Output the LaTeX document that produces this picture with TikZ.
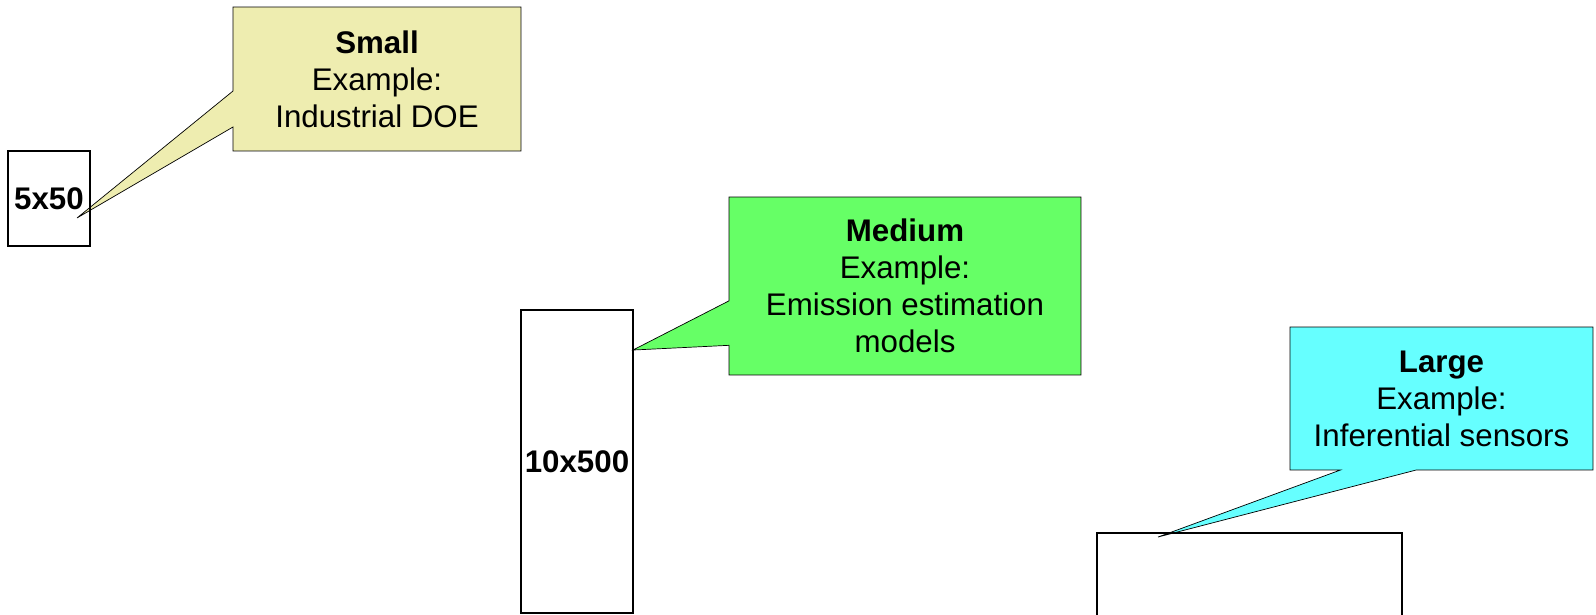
\documentclass[tikz,border=0pt]{standalone}
\usepackage{fontspec}
\setmainfont{Liberation Sans}
\usetikzlibrary{calc,backgrounds}
\definecolor{smallfill}{HTML}{EEEDB0}
\definecolor{mediumfill}{HTML}{66FF66}
\definecolor{largefill}{HTML}{66FFFF}

\begin{document}
\begin{tikzpicture}[x=0.02cm,y=-0.02cm,line width=1pt,
  every node/.style={font=\fontsize{17.8}{21.1}\selectfont},
  note/.style={inner sep=0pt,outer sep=0pt,align=center},
  block/.style={draw,inner sep=0pt,outer sep=0pt,font=\fontsize{17.8}{21.1}\selectfont\bfseries}]
  \useasboundingbox (0,0) rectangle (1596,615);
  \clip (0,0) rectangle (1596,615);
  % data sets
  \node[block,minimum width=1.64cm,minimum height=1.9cm] (d5x50) at (49,198.5) {5x50};
  \node[block,minimum width=2.24cm,minimum height=6.06cm] (d10x500) at (577,461.5) {10x500};
  \node[block,minimum width=6.1cm,minimum height=3.34cm] (dlarge) at (1249.5,616.5) {};
  % callout texts
  \node[note,minimum width=5.76cm,minimum height=2.88cm] (small) at (377,79) {\textbf{Small}\\Example:\\Industrial DOE};
  \node[note,minimum width=7.04cm,minimum height=3.56cm] (medium) at (905,286) {\textbf{Medium}\\Example:\\Emission estimation\\models};
  \node[note,minimum width=6.06cm,minimum height=2.86cm] (large) at (1441.5,398.5) {\textbf{Large}\\Example:\\Inferential sensors};
  \coordinate (smalltip) at ($(d5x50.south east)+(-13,-28)$);
  \coordinate (mediumtip) at ($(d10x500.north east)+(0,40)$);
  \coordinate (largetip) at ($(dlarge.north west)+(61,4)$);
  % callout outlines with tails
  \begin{scope}[on background layer]
    \draw[fill=smallfill] (small.north west) -- ($(small.north west)!0.5833!(small.south west)$) -- (smalltip)
      -- ($(small.north west)!0.8333!(small.south west)$) -- (small.south west) -- (small.south east) -- (small.north east) -- cycle;
    \draw[fill=mediumfill] (medium.north west) -- ($(medium.north west)!0.5833!(medium.south west)$) -- (mediumtip)
      -- ($(medium.north west)!0.8333!(medium.south west)$) -- (medium.south west) -- (medium.south east) -- (medium.north east) -- cycle;
    \draw[fill=largefill] (large.north west) -- (large.south west) -- ($(large.south west)!0.1667!(large.south east)$) -- (largetip)
      -- ($(large.south west)!0.4167!(large.south east)$) -- (large.south east) -- (large.north east) -- cycle;
  \end{scope}
\end{tikzpicture}
\end{document}
